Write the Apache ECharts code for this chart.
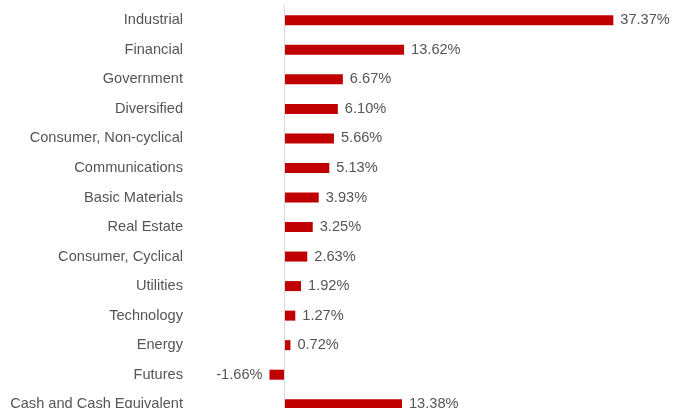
<!DOCTYPE html>
<html>
<head>
<meta charset="utf-8">
<script src="https://cdn.jsdelivr.net/npm/echarts@6/dist/echarts.min.js"></script>
<style>
html,body{margin:0;padding:0;background:#fff;}
#chart{width:673px;height:408px;}
</style>
</head>
<body>
<div id="chart"></div>
<script>
const categories = ["Industrial","Financial","Government","Diversified","Consumer, Non-cyclical","Communications","Basic Materials","Real Estate","Consumer, Cyclical","Utilities","Technology","Energy","Futures","Cash and Cash Equivalent"];
const values = [37.37, 13.62, 6.67, 6.10, 5.66, 5.13, 3.93, 3.25, 2.63, 1.92, 1.27, 0.72, -1.66, 13.38];

const chart = echarts.init(document.getElementById('chart'), null, {renderer: 'canvas'});
const font = 'Liberation Sans, Arial, sans-serif';
chart.setOption({
  animation: false,
  grid: {left: 196, width: 440.5, top: 5.5, height: 413.5, containLabel: false, outerBoundsMode: 'none'},
  xAxis: {
    type: 'value', min: -10, max: 40,
    show: false
  },
  yAxis: {
    type: 'category', data: categories, inverse: true,
    axisLine: {show: false}, axisTick: {show: false}, splitLine: {show: false},
    axisLabel: {margin: 13, color: '#555555', fontSize: 14.6, fontFamily: font}
  },
  series: [{
    type: 'bar',
    data: values.map(v => ({
      value: v,
      label: {position: v < 0 ? 'left' : 'right'}
    })),
    barWidth: 10,
    itemStyle: {color: '#C00000'},
    label: {
      show: true, distance: 7, color: '#555555', fontSize: 14.6, fontFamily: font,
      formatter: p => p.value.toFixed(2) + '%'
    },
    markLine: {
      silent: true, symbol: 'none', label: {show: false},
      lineStyle: {color: '#d9d9d9', width: 1, type: 'solid'},
      data: [{xAxis: 0}]
    },
    z: 3
  }]
});
</script>
</body>
</html>
